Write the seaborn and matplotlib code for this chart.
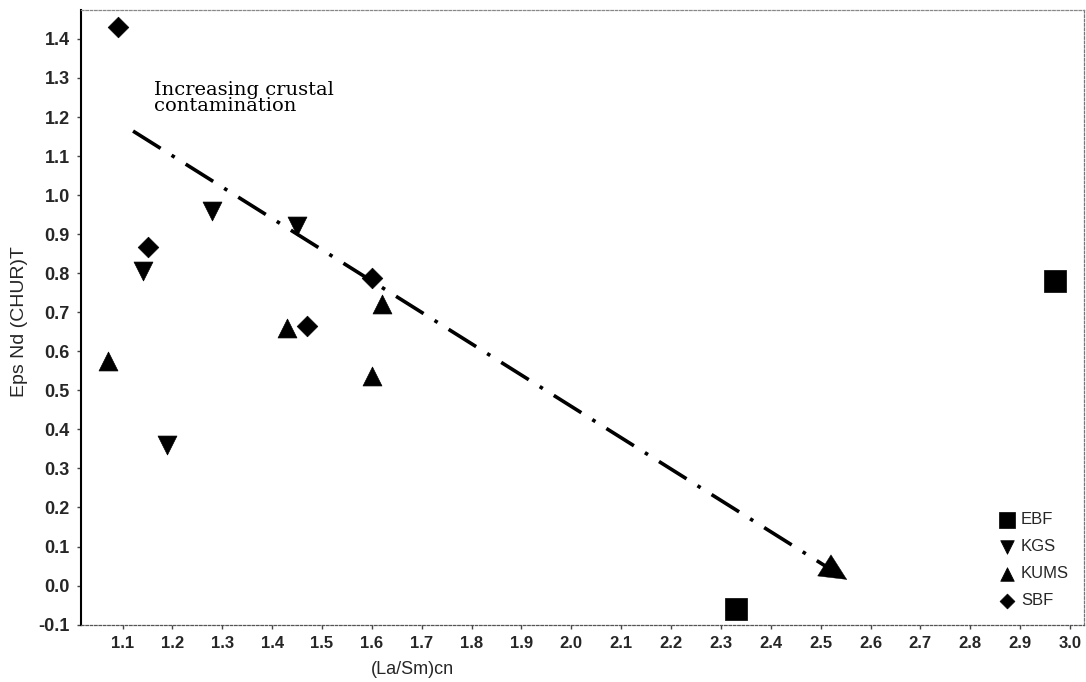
import matplotlib
matplotlib.use("Agg")
import matplotlib.pyplot as plt
import seaborn as sns
import pandas as pd
import numpy as np

# ---- data ----
ebf_x = [2.33, 2.97]
ebf_y = [-0.06, 0.78]
kgs_x = [1.14, 1.19, 1.28, 1.45]
kgs_y = [0.805, 0.36, 0.96, 0.92]
kums_x = [1.07, 1.43, 1.60, 1.62]
kums_y = [0.576, 0.659, 0.536, 0.72]
sbf_x = [1.09, 1.15, 1.47, 1.60]
sbf_y = [1.43, 0.867, 0.664, 0.787]
groups = ["EBF", "KGS", "KUMS", "SBF"]

arrow_start = [1.121, 1.164]
arrow_end = [2.553, 0.015]
annotation = "Increasing crustal\ncontamination"

x_ticks = [1.1, 1.2, 1.3, 1.4, 1.5, 1.6, 1.7, 1.8, 1.9, 2.0, 2.1, 2.2, 2.3, 2.4,
           2.5, 2.6, 2.7, 2.8, 2.9, 3.0]
y_ticks = [-0.1, 0.0, 0.1, 0.2, 0.3, 0.4, 0.5, 0.6, 0.7, 0.8, 0.9, 1.0, 1.1,
           1.2, 1.3, 1.4]

df = pd.DataFrame({
    "x": ebf_x + kgs_x + kums_x + sbf_x,
    "y": ebf_y + kgs_y + kums_y + sbf_y,
    "group": ["EBF"] * len(ebf_x) + ["KGS"] * len(kgs_x)
             + ["KUMS"] * len(kums_x) + ["SBF"] * len(sbf_x),
})

sns.set_theme(style="white")
plt.rcParams["font.family"] = ["Liberation Sans", "DejaVu Sans"]

fig = plt.figure(figsize=(10.86, 6.82), dpi=100)
ax = fig.add_axes([0.0746, 0.0836, 0.9235, 0.9017])

markers = {"EBF": "s", "KGS": "v", "KUMS": "^", "SBF": "D"}
sizes = {"EBF": 230, "KGS": 185, "KUMS": 185, "SBF": 110}
for g in groups:
    sub = df[df["group"] == g]
    sns.scatterplot(data=sub, x="x", y="y", marker=markers[g], s=sizes[g],
                    color="black", edgecolor="black", linewidth=0.5,
                    label=g, ax=ax)

# arrow: dash-dot shaft + filled head
sx, sy = arrow_start
ex, ey = arrow_end
frac = 0.975
ax.plot([sx, sx + frac * (ex - sx)], [sy, sy + frac * (ey - sy)],
        color="black", lw=2.6, linestyle=(0, (9, 3.6, 1, 3.6)),
        solid_capstyle="butt", dash_capstyle="butt")
ax.annotate("", xy=(ex, ey), xytext=(sx + 0.975 * (ex - sx), sy + 0.975 * (ey - sy)),
            arrowprops=dict(arrowstyle="-|>,head_length=1.9,head_width=0.9",
                            mutation_scale=10, color="black", lw=0.3,
                            shrinkA=0, shrinkB=0))

ax.text(1.1636, 1.292, annotation, family="DejaVu Serif", fontsize=14,
        va="top", ha="left", linespacing=0.88, color="black")

ax.set_xlim(1.0166, 3.028)
ax.set_ylim(-0.101, 1.474)
ax.set_xticks(x_ticks)
ax.set_xticklabels([f"{v:.1f}" for v in x_ticks])
ax.set_yticks(y_ticks)
ax.set_yticklabels([f"{v:.1f}" for v in y_ticks])
ax.tick_params(axis="both", which="major", direction="out", length=3, width=1,
               color="#444444", bottom=True, left=True, pad=5)
for lab in ax.get_xticklabels():
    lab.set_fontsize(12)
    lab.set_fontweight("bold")
for lab in ax.get_yticklabels():
    lab.set_fontsize(13)
    lab.set_fontweight("bold")

ax.set_xlabel("(La/Sm)cn", fontsize=13)
ax.set_ylabel("Eps Nd (CHUR)T", fontsize=14)
ax.xaxis.set_label_coords(0.33, -0.058)
ax.yaxis.set_label_coords(-0.053, 0.494)

ax.spines["left"].set_color("black")
ax.spines["left"].set_linewidth(1.5)
for side in ["bottom", "top", "right"]:
    ax.spines[side].set_linestyle((0, (2, 1.5)))
    ax.spines[side].set_linewidth(0.9)
ax.spines["bottom"].set_color("#555555")
ax.spines["top"].set_color("#888888")
ax.spines["right"].set_color("#777777")

leg = ax.legend(loc="upper left", bbox_to_anchor=(0.903, 0.202), frameon=False,
                markerscale=0.72, handletextpad=0.35, labelspacing=0.72,
                borderpad=0.2, handlelength=1.0,
                prop={"family": ["Liberation Sans"], "size": 12})

fig.savefig("out.png", dpi=100)
